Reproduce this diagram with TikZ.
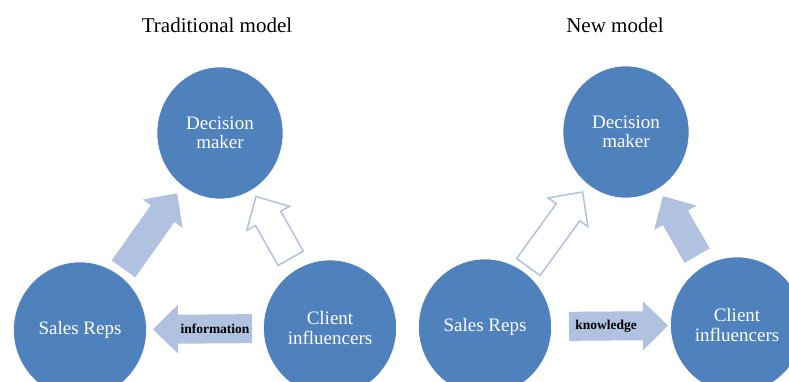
\documentclass[tikz,border=0pt]{standalone}
\usepackage{fontspec}
\setmainfont{Liberation Serif}
\usetikzlibrary{calc, shapes.geometric}
\definecolor{cblue}{HTML}{4F81BD}
\definecolor{clight}{HTML}{B0C2DF}
\tikzset{
  every picture/.style={line width=1.2pt},
  actor/.style={ellipse, fill=cblue, draw=white, line width=0.6pt, text=white, align=center, inner sep=0pt,
    minimum width=133pt, minimum height=136pt, font=\rmfamily\fontsize{19}{19.5}\selectfont},
  filledarrow/.style={fill=clight, draw=none},
  hollowarrow/.style={fill=white, draw=clight, line width=1.5pt},
  arrowlabel/.style={font=\rmfamily\fontsize{13.5}{14}\selectfont\bfseries, text=black, inner sep=0pt},
  title/.style={font=\rmfamily\fontsize{21}{24}\selectfont},
}
% block arrow between two nodes: [style]{from}{to}{gap at from}{gap at to}
\newcommand{\blockarrow}[5][]{%
  \coordinate (ba-tail) at ($(#2)!#4!(#3)$);
  \coordinate (ba-tip) at ($(#3)!#5!(#2)$);
  \coordinate (ba-neck) at ($(ba-tip)!25pt!(ba-tail)$);
  \draw[#1] ($(ba-tail)!14.5pt!90:(ba-tip)$) -- ($(ba-neck)!14.5pt!90:(ba-tip)$)
    -- ($(ba-neck)!24.5pt!90:(ba-tip)$) -- (ba-tip)
    -- ($(ba-neck)!24.5pt!-90:(ba-tip)$) -- ($(ba-neck)!14.5pt!-90:(ba-tip)$)
    -- ($(ba-tail)!14.5pt!-90:(ba-tip)$) -- cycle;
}

\begin{document}
\begin{tikzpicture}[x=1pt, y=-1pt]
  \useasboundingbox (0,0) rectangle (789,382);
  \clip (0,0) rectangle (789,382);

  % traditional model
  \node[title] (ttitle) at (217,25) {Traditional model};
  \node[actor, minimum width=126pt, minimum height=132pt] (tdm) at (220,133) {Decision\\maker};
  \node[actor] (tsr) at (80,330) {Sales Reps};
  \node[actor] (tci) at (330,328) {Client\\influencers};

  \blockarrow[filledarrow]{tsr}{tdm}{75pt}{74pt}
  \blockarrow[hollowarrow]{tci}{tdm}{80pt}{73pt}
  \blockarrow[filledarrow]{tci}{tsr}{78pt}{73pt}
  \node[arrowlabel] (info) at ($(ba-tail)!0.5!(ba-neck)$) {information};

  % new model
  \node[title] (ntitle) at (615,25) {New model};
  \node[actor, minimum width=126pt, minimum height=132pt] (ndm) at (626,132) {Decision\\maker};
  \node[actor] (nsr) at (485,327) {Sales Reps};
  \node[actor] (nci) at (737,325) {Client\\influencers};

  \blockarrow[hollowarrow]{nsr}{ndm}{74pt}{74pt}
  \blockarrow[filledarrow]{nci}{ndm}{80pt}{74pt}
  \blockarrow[filledarrow]{nsr}{nci}{84pt}{69pt}
  \node[arrowlabel] (know) at ($(ba-tail)!0.5!(ba-neck)$) {knowledge};
\end{tikzpicture}
\end{document}
